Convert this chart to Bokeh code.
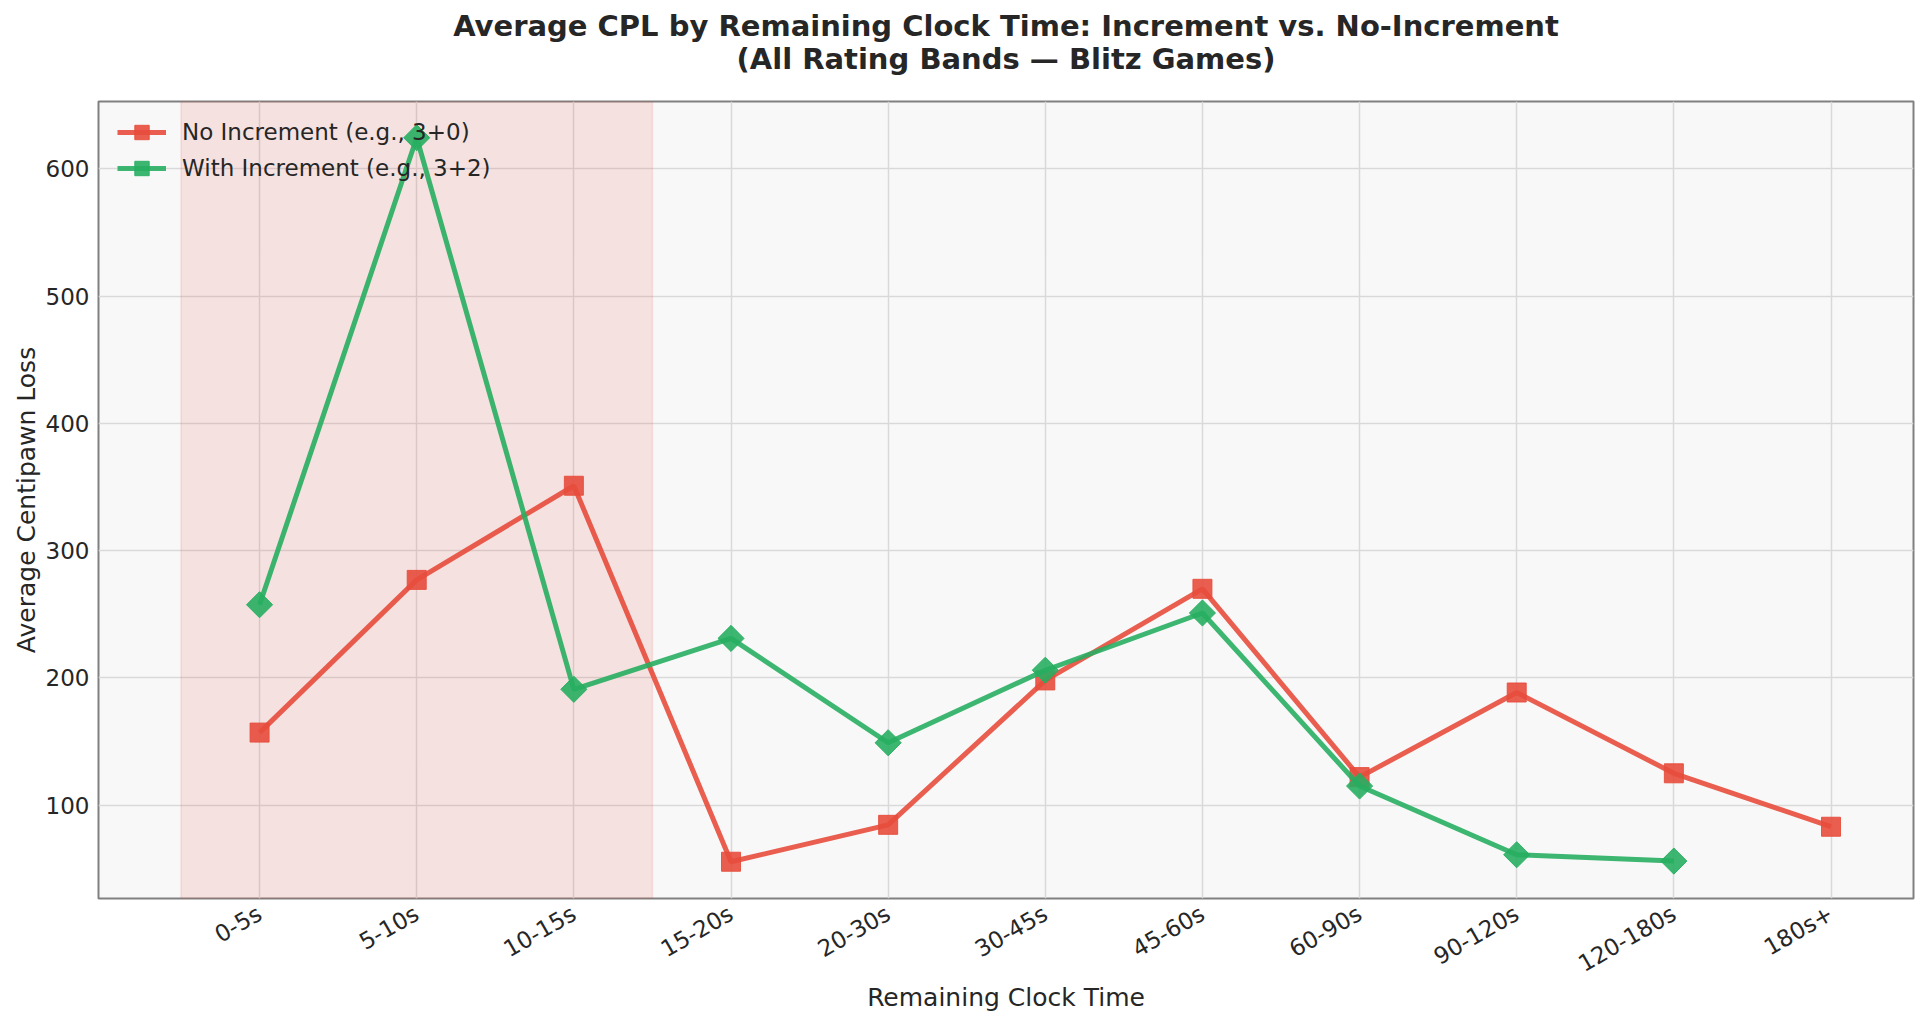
from bokeh.plotting import figure
from bokeh.models import FixedTicker, Range1d, BoxAnnotation, Legend, LegendItem, Title
from bokeh.embed import file_html
from bokeh.resources import INLINE
import math

# data
clock_bins = ["0-5s", "5-10s", "10-15s", "15-20s", "20-30s", "30-45s",
              "45-60s", "60-90s", "90-120s", "120-180s", "180s+"]
cpl_no_increment = [157, 277, 351, 55.5, 84.5, 198, 270, 122, 188.5, 125, 83]
cpl_with_increment = [257.5, 624.5, 191, 231, 149, 206, 251, 115, 61, 56, float("nan")]
y_ticks = [100, 200, 300, 400, 500, 600]
title_lines = ["Average CPL by Remaining Clock Time: Increment vs. No-Increment",
               "(All Rating Bands \u2014 Blitz Games)"]

x_idx = list(range(len(clock_bins)))
FONT = "DejaVu Sans"
RED = "#e74c3c"
GREEN = "#27ae60"
TEXT = "#262626"

p = figure(width=1915, height=1015, output_backend="svg", toolbar_location=None,
           x_range=Range1d(-1.025, 10.525), y_range=Range1d(26.6, 653),
           min_border_left=98, min_border_right=2, min_border_top=101, min_border_bottom=117)

p.background_fill_color = "#f8f8f8"
p.border_fill_color = "white"
p.outline_line_color = "#808080"
p.outline_line_width = 2

# shaded "time trouble" zone
zone = BoxAnnotation(left=-0.5, right=2.5, fill_color=RED, fill_alpha=0.12,
                     line_color=RED, line_alpha=0.12, line_width=1.5, level="underlay")
p.add_layout(zone)

l1 = p.line(x_idx, cpl_no_increment, line_color=RED, line_width=5, line_alpha=0.9)
s1 = p.scatter(x_idx, cpl_no_increment, marker="square", size=19,
               fill_color=RED, line_color=RED, fill_alpha=0.9, line_alpha=0.9)
l2 = p.line(x_idx, cpl_with_increment, line_color=GREEN, line_width=5, line_alpha=0.9)
s2 = p.scatter(x_idx, cpl_with_increment, marker="square", angle=math.pi / 4, size=18.5,
               fill_color=GREEN, line_color=GREEN, fill_alpha=0.9, line_alpha=0.9)

legend = Legend(items=[LegendItem(label="No Increment (e.g., 3+0)", renderers=[l1, s1]),
                       LegendItem(label="With Increment (e.g., 3+2)", renderers=[l2, s2])],
                location=(19, 712), background_fill_alpha=0, border_line_alpha=0,
                label_text_font=FONT, label_text_font_size="23px", label_text_color=TEXT,
                glyph_width=49, glyph_height=36, label_height=36, spacing=0,
                label_standoff=16, margin=0, padding=0)
p.add_layout(legend)

p.xaxis.ticker = FixedTicker(ticks=x_idx)
p.xaxis.major_label_overrides = {i: c for i, c in zip(x_idx, clock_bins)}
p.xaxis.major_label_orientation = math.pi / 6
p.yaxis.ticker = FixedTicker(ticks=y_ticks)

for ax in (p.xaxis, p.yaxis):
    ax.axis_line_color = None
    ax.major_tick_line_color = None
    ax.minor_tick_line_color = None
    ax.major_label_text_font = FONT
    ax.major_label_text_font_size = "23px"
    ax.major_label_text_color = TEXT
    ax.axis_label_text_font = FONT
    ax.axis_label_text_font_size = "25px"
    ax.axis_label_text_font_style = "normal"
    ax.axis_label_text_color = TEXT

p.xaxis.major_label_standoff = 7
p.yaxis.major_label_standoff = 3
p.xaxis.axis_label = "Remaining Clock Time"
p.yaxis.axis_label = "Average Centipawn Loss"
p.xaxis.axis_label_standoff = -8
p.yaxis.axis_label_standoff = 2

p.xgrid.grid_line_color = "#d9d9d9"
p.ygrid.grid_line_color = "#d9d9d9"
p.xgrid.grid_line_width = 1.5
p.ygrid.grid_line_width = 1.5

# two centred title lines; the second one sits closest to the frame
p.add_layout(Title(text=title_lines[1], align="center", text_font=FONT, text_font_size="29px",
                   text_font_style="bold", text_color=TEXT, standoff=52), "above")
p.add_layout(Title(text=title_lines[0], align="center", text_font=FONT, text_font_size="29px",
                   text_font_style="bold", text_color=TEXT, standoff=-58), "above")

open("out.html", "w").write(file_html(p, INLINE))
